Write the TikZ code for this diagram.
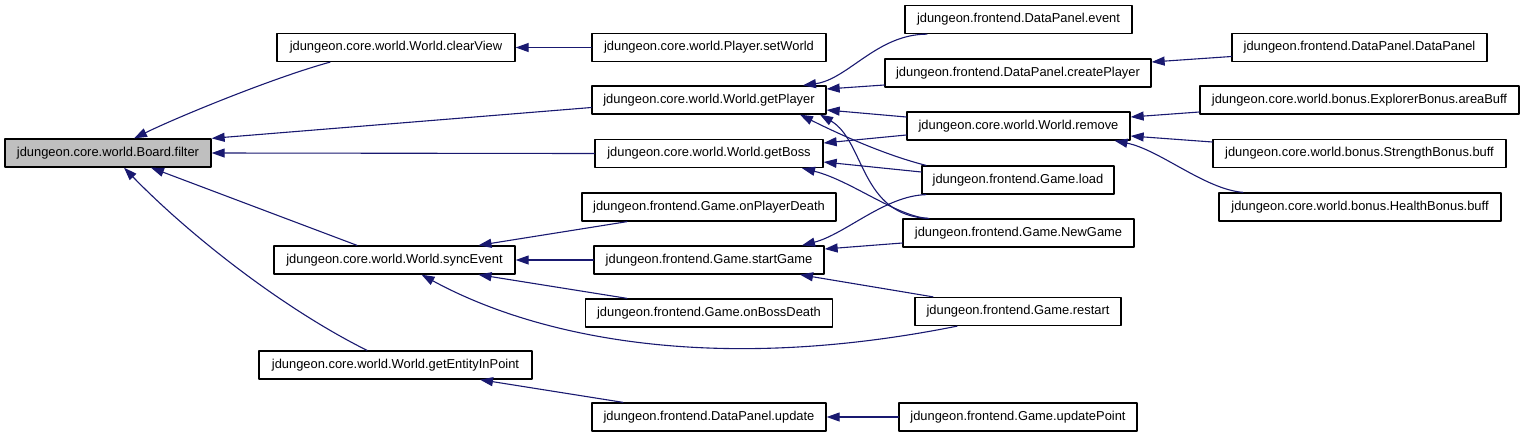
\documentclass[tikz,border=0pt]{standalone}
\usepackage{fontspec}
\setmainfont{Liberation Sans}
\usetikzlibrary{arrows.meta}
\definecolor{edgeblue}{HTML}{191970}
\definecolor{hlgray}{HTML}{BFBFBF}
\tikzset{
    fn/.style={draw=black,line width=1.3pt,fill=white,minimum height=28pt,inner sep=0pt,font=\fontsize{12.9}{15}\selectfont},%function box
    call/.style={->,color=edgeblue,line width=1.1pt}
    }

\begin{document}
\begin{tikzpicture}[line cap=round,line join=round,>={Triangle[length=13pt,width=9pt]},x=1pt,y=-1pt]
\useasboundingbox (0,0) rectangle (1525,437);
\node[fn,fill=hlgray,minimum width=206pt] (filter) at (108,153) {jdungeon.core.world.Board.filter};
\node[fn,minimum width=238pt] (clearView) at (396,47.5) {jdungeon.core.world.World.clearView};
\node[fn,minimum width=241pt] (syncEvent) at (394.5,260) {jdungeon.core.world.World.syncEvent};
\node[fn,minimum width=273pt] (getEntityInPoint) at (395.5,365) {jdungeon.core.world.World.getEntityInPoint};
\node[fn,minimum width=234pt] (setWorld) at (709,47.5) {jdungeon.core.world.Player.setWorld};
\node[fn,minimum width=234pt] (getPlayer) at (709,100) {jdungeon.core.world.World.getPlayer};
\node[fn,minimum width=228pt] (getBoss) at (709,153.5) {jdungeon.core.world.World.getBoss};
\node[fn,minimum width=254pt] (onPlayerDeath) at (709,207) {jdungeon.frontend.Game.onPlayerDeath};
\node[fn,minimum width=230pt] (startGame) at (709,260) {jdungeon.frontend.Game.startGame};
\node[fn,minimum width=247pt] (onBossDeath) at (709,313) {jdungeon.frontend.Game.onBossDeath};
\node[fn,minimum width=234pt] (update) at (709,417) {jdungeon.frontend.DataPanel.update};
\node[fn,minimum width=227pt] (event) at (1018.5,19.5) {jdungeon.frontend.DataPanel.event};
\node[fn,minimum width=266pt] (createPlayer) at (1018,73) {jdungeon.frontend.DataPanel.createPlayer};
\node[fn,minimum width=223pt] (remove) at (1018.5,126) {jdungeon.core.world.World.remove};
\node[fn,minimum width=192pt] (load) at (1018,180) {jdungeon.frontend.Game.load};
\node[fn,minimum width=231pt] (NewGame) at (1018.5,233) {jdungeon.frontend.Game.NewGame};
\node[fn,minimum width=206pt] (restart) at (1018,311.5) {jdungeon.frontend.Game.restart};
\node[fn,minimum width=238pt] (updatePoint) at (1018,417) {jdungeon.frontend.Game.updatePoint};
\node[fn,minimum width=255pt] (DataPanel) at (1359.5,47.5) {jdungeon.frontend.DataPanel.DataPanel};
\node[fn,minimum width=319pt] (areaBuff) at (1359.5,100) {jdungeon.core.world.bonus.ExplorerBonus.areaBuff};
\node[fn,minimum width=293pt] (strengthBuff) at (1359.5,153.5) {jdungeon.core.world.bonus.StrengthBonus.buff};
\node[fn,minimum width=282pt] (healthBuff) at (1360,207) {jdungeon.core.world.bonus.HealthBonus.buff};
%callers of filter
\draw[call] ([xshift=-66pt]clearView.south) .. controls +(-55,15) and +(45,-22) .. ([xshift=26pt]filter.north);
\draw[call] ([yshift=-7.5pt]getPlayer.west) -- (filter.north east);
\draw[call] (getBoss.west) -- (filter.east);
\draw[call] ([xshift=-37.5pt]syncEvent.north) -- ([xshift=43pt]filter.south);
\draw[call] ([xshift=-28.5pt]getEntityInPoint.north) .. controls +(-90,-45) and +(60,62) .. ([xshift=16pt]filter.south);
\draw[call] (setWorld.west) -- (clearView.east);
%getPlayer, getBoss
\draw[call] ([xshift=-91.5pt]event.south) .. controls +(-50,0) and +(45,-6) .. ([xshift=94pt]getPlayer.north);
\draw[call] ([yshift=-12pt]createPlayer.west) -- ([yshift=11pt]getPlayer.east);
\draw[call] ([yshift=9pt]remove.west) -- ([yshift=-10pt]getPlayer.east);
\draw[call] ([xshift=-92pt]load.north) .. controls +(-40,-10) and +(40,20) .. ([xshift=91pt]getPlayer.south);
\draw[call] ([xshift=-89.5pt]NewGame.north) .. controls +(-69,-2) and +(45,26) .. ([xshift=111pt]getPlayer.south);
\draw[call] ([yshift=-9pt]remove.west) -- ([yshift=10.5pt]getBoss.east);
\draw[call] ([yshift=8pt]load.west) -- ([yshift=-8.5pt]getBoss.east);
\draw[call] ([xshift=-91.5pt]NewGame.north) .. controls +(-32,-3) and +(48,12) .. ([xshift=93pt]getBoss.south);
\draw[call] ([yshift=-12pt]areaBuff.west) -- ([yshift=9pt]remove.east);
\draw[call] ([yshift=11.5pt]strengthBuff.west) -- ([yshift=-10pt]remove.east);
\draw[call] ([xshift=-117pt]healthBuff.north) .. controls +(-38,-3) and +(45,9) .. ([xshift=96pt]remove.south);
\draw[call] ([yshift=-9pt]DataPanel.west) -- ([yshift=11pt]createPlayer.east);
%syncEvent, startGame
\draw[call] ([xshift=-82pt]onPlayerDeath.south) -- ([xshift=84pt]syncEvent.north);
\draw[call] (startGame.west) -- (syncEvent.east);
\draw[call] ([xshift=-82pt]onBossDeath.north) -- ([xshift=84pt]syncEvent.south);
\draw[call] ([xshift=-61pt]restart.south) .. controls +(-250,50) and +(110,60) .. ([xshift=27pt]syncEvent.south);
\draw[call] ([yshift=-10pt]NewGame.west) -- ([yshift=11pt]startGame.east);
\draw[call] ([xshift=-92pt]load.south) .. controls +(-41,1) and +(43,-11) .. ([xshift=93pt]startGame.north);
\draw[call] ([xshift=-85pt]restart.north) -- ([xshift=91pt]startGame.south);
\draw[call] ([xshift=-86pt]update.north) -- ([xshift=84.5pt]getEntityInPoint.south);
\draw[call] (updatePoint.west) -- (update.east);
\end{tikzpicture}
\end{document}
